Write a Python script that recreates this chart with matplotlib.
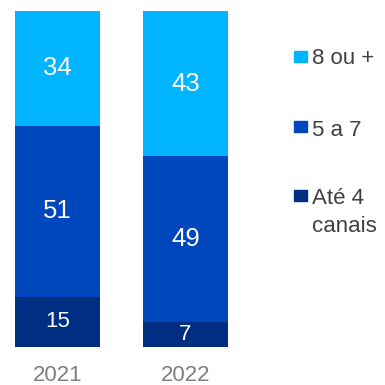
import matplotlib
matplotlib.use("Agg")
import matplotlib.pyplot as plt
from matplotlib.patches import Rectangle

plt.rcParams['font.family'] = ['Liberation Sans', 'DejaVu Sans']

years = ["2021", "2022"]
series_names = ["Até 4\ncanais", "5 a 7", "8 ou +"]
ate4 = [14.9, 7.3]
de5a7 = [50.9, 49.4]
oito_mais = [34.2, 43.3]
colors = ["#002E82", "#0047BE", "#00B4FF"]

W, H = 385, 385
fig = plt.figure(figsize=(W / 100, H / 100), dpi=100)
left, right, top, bottom = 15, 228, 11, 347
ax = fig.add_axes([left / W, 1 - bottom / H, (right - left) / W, (bottom - top) / H])

w = 85 / 128
x = [0, 1]
data = [ate4, de5a7, oito_mais]
base = [0, 0]
for vals, col in zip(data, colors):
    ax.bar(x, vals, width=w, bottom=base, color=col, edgecolor='none')
    for xi, b, v in zip(x, base, vals):
        fs = 16 if v < 20 else 18.5
        ax.text(xi, b + v / 2, f"{v:.0f}", ha='center', va='center', color='white', fontsize=fs)
    base = [b + v for b, v in zip(base, vals)]

ax.set_xlim(-w / 2, 1 + w / 2)
ax.set_ylim(0, 100)
ax.set_xticks(x)
ax.set_xticklabels(years, fontsize=16, color='#7F7F7F')
ax.tick_params(axis='x', length=0, pad=13)
ax.set_yticks([])
for s in ax.spines.values():
    s.set_visible(False)

# legend (top to bottom): square centre y, text baseline y
leg_items = [(series_names[2], colors[2], 56), (series_names[1], colors[1], 127),
             (series_names[0], colors[0], 195)]
for lab, col, yc in leg_items:
    fig.patches.append(Rectangle((294 / W, 1 - (yc + 5.5) / H), 12.5 / W, 11 / H,
                                 transform=fig.transFigure, color=col))
    lines = lab.split("\n")
    for i, ln in enumerate(lines):
        fig.text(312 / W, 1 - (yc + 8.5 + 28 * i) / H, ln, fontsize=16, color='#404040',
                 ha='left', va='baseline')

fig.savefig("out.png", dpi=100)
